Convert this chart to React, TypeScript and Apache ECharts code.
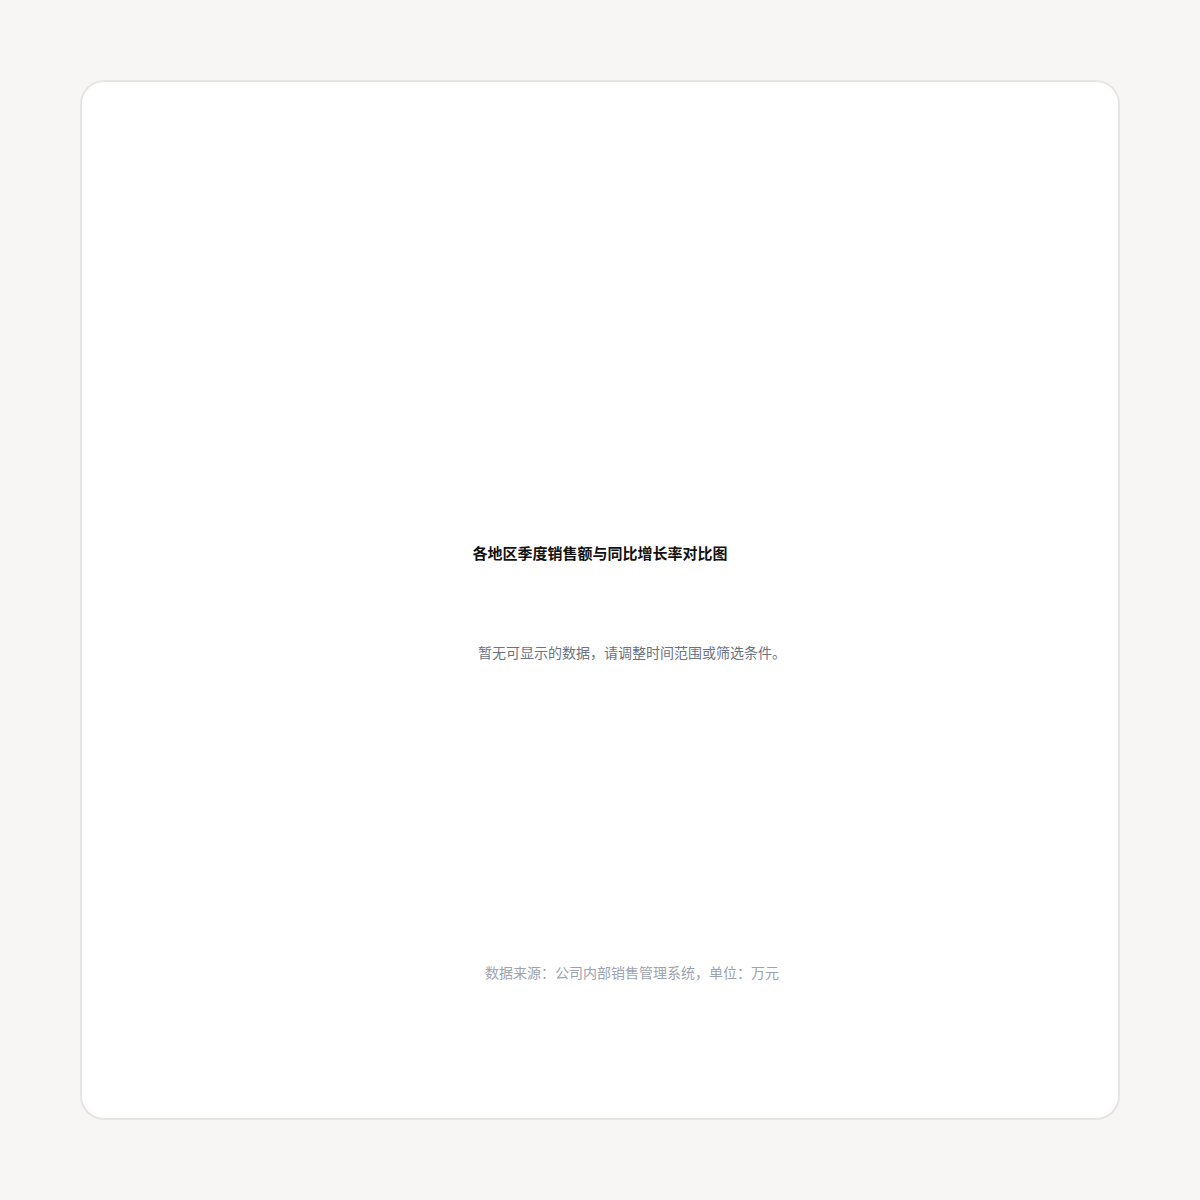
import { useEffect, useRef } from "react";
import * as echarts from "echarts";

// texts of the empty chart card
const titleText = "各地区季度销售额与同比增长率对比图";
const emptyText = "暂无可显示的数据，请调整时间范围或筛选条件。";
const sourceText = "数据来源：公司内部销售管理系统，单位：万元";

const FONT = "'Noto Sans CJK SC', 'DejaVu Sans', sans-serif";

export default function App() {
  const ref = useRef<HTMLDivElement | null>(null);

  useEffect(() => {
    document.body.style.margin = "0";
    const el = ref.current;
    if (!el) return;
    const chart = echarts.init(el, null, { renderer: "svg" });
    chart.setOption({
      animation: false,
      graphic: [
        {
          type: "text",
          x: 518,
          y: 470,
          style: {
            text: titleText,
            fill: "#111111",
            fontSize: 15,
            fontWeight: 600,
            fontFamily: FONT,
            textAlign: "center",
            textVerticalAlign: "middle",
          },
        },
        {
          type: "text",
          x: 550,
          y: 570,
          style: {
            text: emptyText,
            fill: "#6b7280",
            fontSize: 14,
            fontFamily: FONT,
            textAlign: "center",
            textVerticalAlign: "middle",
          },
        },
        {
          type: "text",
          x: 550,
          y: 890,
          style: {
            text: sourceText,
            fill: "#9ca3af",
            fontSize: 14,
            fontFamily: FONT,
            textAlign: "center",
            textVerticalAlign: "middle",
          },
        },
      ],
    });
    return () => chart.dispose();
  }, []);

  return (
    <div style={{ width: 1200, height: 1200, background: "#f7f6f4", position: "relative" }}>
      <div
        style={{
          position: "absolute",
          left: 80,
          top: 80,
          width: 1040,
          height: 1040,
          boxSizing: "border-box",
          border: "2px solid #e7e5e2",
          borderRadius: 24,
          background: "#ffffff",
          overflow: "hidden",
        }}
      >
        <div ref={ref} style={{ width: 1036, height: 1036 }} />
      </div>
    </div>
  );
}
